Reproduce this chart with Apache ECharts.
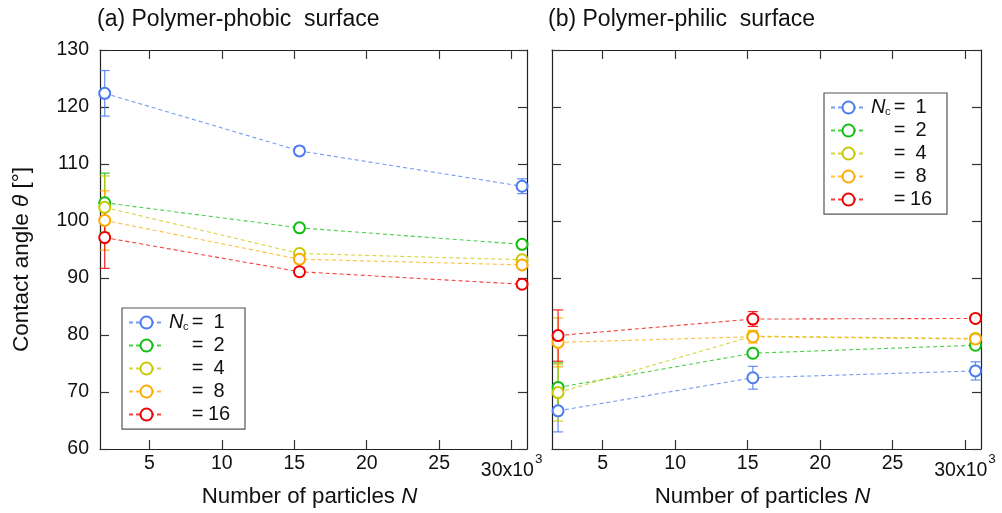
<!DOCTYPE html>
<html>
<head>
<meta charset="utf-8">
<script src="https://cdn.jsdelivr.net/npm/echarts@6/dist/echarts.min.js"></script>
<style>html,body{margin:0;padding:0;background:#fff}#c{width:1002px;height:513px}</style>
</head>
<body>
<div id="c"></div>
<script>
// ---- data ----
const xN = [1.92, 15.36, 30.72];            // number of particles (x10^3)
const ncLabels = ['1', '2', '4', '8', '16'];
const seriesNames = ['n1', 'n2', 'n4', 'n8', 'n16'];
const colors = ['#4a7bf0', '#10c010', '#c8c800', '#ffaa00', '#f00000'];
// (a) polymer-phobic
const phobicTheta = [
  [122.4, 112.3, 106.1],
  [103.2, 98.8, 95.9],
  [102.4, 94.3, 93.2],
  [100.1, 93.3, 92.3],
  [97.1, 91.1, 88.9]
];
const phobicErr = [
  [4.0, 0.7, 1.3],
  [5.2, 0.3, 0.3],
  [5.5, 0.4, 0.4],
  [5.2, 0.5, 0.5],
  [5.4, 0.7, 0.4]
];
// (b) polymer-philic
const philicTheta = [
  [66.7, 72.5, 73.7],
  [70.8, 76.8, 78.2],
  [69.9, 79.8, 79.4],
  [78.7, 79.7, 79.3],
  [79.9, 82.8, 82.9]
];
const philicErr = [
  [3.7, 2.0, 1.6],
  [4.3, 0.6, 0.5],
  [5.0, 0.8, 0.4],
  [4.3, 1.1, 0.5],
  [4.5, 1.3, 0.4]
];
const xTicks = [5, 10, 15, 20, 25, 30];
const yTicks = [60, 70, 80, 90, 100, 110, 120, 130];
const titles = ['(a) Polymer-phobic  surface', '(b) Polymer-philic  surface'];

// ---- chart ----
const FONT = 'Liberation Sans';
const chart = echarts.init(document.getElementById('c'), null, {renderer: 'canvas'});
const axisLineStyle = {color: '#222', width: 1.2};
const tickStyle = {color: '#333', width: 1.2};

function xLabelFmt(v) {
  if (v === 30) return '{m2|30x10}{sup|3}';
  return '{m|' + v + '}';
}
const xRich = {
  m: {fontSize: 19.5, fontFamily: FONT, color: '#111', lineHeight: 24},
  m2: {fontSize: 19.5, fontFamily: FONT, color: '#111', lineHeight: 29, verticalAlign: 'bottom'},
  sup: {fontSize: 13.5, fontFamily: FONT, color: '#111', lineHeight: 16, verticalAlign: 'top', padding: [0, 0, 0, 1]}
};

const panels = [
  {grid: {left: 100, top: 50, width: 427, height: 399}, xmin: 1.595, xmax: 31.06, theta: phobicTheta, err: phobicErr, yLabels: true},
  {grid: {left: 552, top: 50, width: 429, height: 399}, xmin: 1.5, xmax: 31.1, theta: philicTheta, err: philicErr, yLabels: false}
];

const grid = [], xAxis = [], yAxis = [], series = [];
panels.forEach((p, pi) => {
  grid.push(p.grid);
  xAxis.push({
    type: 'value', gridIndex: pi, position: 'bottom', min: p.xmin, max: p.xmax,
    name: '{t|Number of particles }{i|N}', nameLocation: 'middle', nameGap: 34,
    nameTextStyle: {padding: [0, 8, 0, 0], rich: {
      t: {fontSize: 22.3, fontFamily: FONT, color: '#111'},
      i: {fontSize: 22.3, fontFamily: FONT, color: '#111', fontStyle: 'italic'}
    }},
    axisLine: {show: true, onZero: false, lineStyle: axisLineStyle},
    axisTick: {show: true, inside: true, length: 9, lineStyle: tickStyle, customValues: xTicks},
    axisLabel: {show: true, margin: 3, customValues: xTicks, formatter: xLabelFmt, rich: xRich},
    splitLine: {show: false}
  });
  xAxis.push({
    type: 'value', gridIndex: pi, position: 'top', min: p.xmin, max: p.xmax,
    axisLine: {show: true, onZero: false, lineStyle: axisLineStyle},
    axisTick: {show: true, inside: true, length: 9, lineStyle: tickStyle, customValues: xTicks},
    axisLabel: {show: false}, splitLine: {show: false}
  });
  yAxis.push({
    type: 'value', gridIndex: pi, position: 'left', min: 60, max: 130, interval: 10,
    name: p.yLabels ? '{t|Contact angle }{i|θ}{t| [°]}' : '', nameLocation: 'middle', nameGap: 67, nameRotate: 90,
    nameTextStyle: {padding: [0, 20, 0, 0], rich: {
      t: {fontSize: 22.5, fontFamily: FONT, color: '#111'},
      i: {fontSize: 22.5, fontFamily: FONT, color: '#111', fontStyle: 'italic'}
    }},
    axisLine: {show: true, onZero: false, lineStyle: axisLineStyle},
    axisTick: {show: true, inside: true, length: 9, lineStyle: tickStyle},
    axisLabel: {show: p.yLabels, margin: 11, fontSize: 19.5, fontFamily: FONT, color: '#111'},
    splitLine: {show: false}
  });
  yAxis.push({
    type: 'value', gridIndex: pi, position: 'right', min: 60, max: 130, interval: 10,
    axisLine: {show: true, onZero: false, lineStyle: axisLineStyle},
    axisTick: {show: true, inside: true, length: 9, lineStyle: tickStyle},
    axisLabel: {show: false}, splitLine: {show: false}
  });

  const xi = pi * 2, yi = pi * 2;
  seriesNames.forEach((nm, si) => {
    const col = colors[si];
    series.push({
      type: 'custom', name: 'eb-' + nm + '-' + pi, xAxisIndex: xi, yAxisIndex: yi,
      silent: true, clip: false, z: 2,
      data: xN.map((x, k) => [x, p.theta[si][k], p.err[si][k]]),
      renderItem: function (params, api) {
        const x = api.value(0), y = api.value(1), e = api.value(2);
        const top = api.coord([x, y + e]);
        const bot = api.coord([x, y - e]);
        const hw = 5;
        const st = {stroke: col, lineWidth: 1.2, opacity: 0.85};
        return {type: 'group', children: [
          {type: 'line', shape: {x1: top[0], y1: top[1], x2: bot[0], y2: bot[1]}, style: st},
          {type: 'line', shape: {x1: top[0] - hw, y1: top[1], x2: top[0] + hw, y2: top[1]}, style: st},
          {type: 'line', shape: {x1: bot[0] - hw, y1: bot[1], x2: bot[0] + hw, y2: bot[1]}, style: st}
        ]};
      }
    });
    series.push({
      type: 'line', name: nm, xAxisIndex: xi, yAxisIndex: yi, clip: false, z: 3,
      data: xN.map((x, k) => [x, p.theta[si][k]]),
      symbol: 'emptyCircle', symbolSize: 11,
      itemStyle: {color: col, borderColor: col, borderWidth: 1.8},
      lineStyle: {color: col, width: 1.1, type: [4, 3], opacity: 0.75}
    });
  });
});

function legendFmt(name) {
  const i = seriesNames.indexOf(name);
  if (i === 0) return '{n|N}{s|c}{e|=}{v|' + ncLabels[i] + '}';
  return '{b|}{e|=}{v|' + ncLabels[i] + '}';
}
const legendRich = {
  n: {fontSize: 20, fontFamily: FONT, color: '#111', fontStyle: 'italic', width: 14, lineHeight: 20},
  s: {fontSize: 11, fontFamily: FONT, color: '#111', width: 8, lineHeight: 1, verticalAlign: 'bottom'},
  b: {width: 22, lineHeight: 20},
  e: {fontSize: 20, fontFamily: FONT, color: '#111', width: 13, align: 'center', lineHeight: 20},
  v: {fontSize: 20, fontFamily: FONT, color: '#111', width: 30, align: 'center', lineHeight: 20}
};
function mkLegend(left, top) {
  return {
    show: true, orient: 'vertical', left: left, top: top,
    data: seriesNames.slice(),
    itemWidth: 35, itemHeight: 15, itemGap: 3,
    padding: [4.6, 11, 4.6, 6],
    borderColor: '#555', borderWidth: 1.2, backgroundColor: '#fff',
    selectedMode: false,
    formatter: legendFmt,
    textStyle: {fontSize: 20, fontFamily: FONT, color: '#111', lineHeight: 20, rich: legendRich}
  };
}

const option = {
  animation: false,
  backgroundColor: '#fff',
  title: [
    {text: titles[0], left: 92, top: 3, textStyle: {fontSize: 23, fontWeight: 'normal', fontFamily: FONT, color: '#111'}},
    {text: titles[1], left: 543, top: 3, textStyle: {fontSize: 23, fontWeight: 'normal', fontFamily: FONT, color: '#111'}}
  ],
  legend: [mkLegend(122, 308), mkLegend(824, 93)],
  grid: grid, xAxis: xAxis, yAxis: yAxis, series: series
};
chart.setOption(option);
</script>
</body>
</html>
